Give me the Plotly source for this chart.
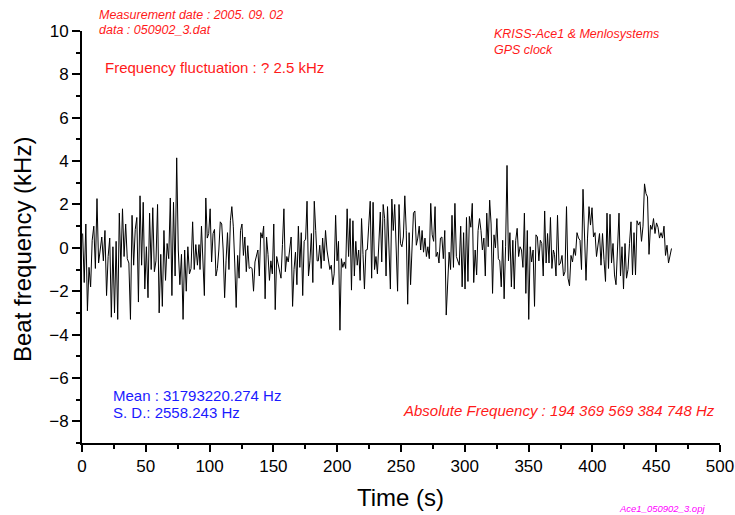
import numpy as np
import plotly.graph_objects as go

# Beat frequency (kHz), in time order, split in five spans
beat_0_92 = [0.66, -1.6, 1.1, -2.9, -0.9, -1.8, 0.35, 1.0, -0.95, 2.27, -0.7, -0.2, 0.5, -0.6, 0.8, -2.2,
             -0.4, 0.45, -3.2, 0.05, -3.0, 0.3, -3.3, 1.6, -0.9, 1.8, -0.4, 1.1, -0.5, -0.7, -3.3, 1.5,
             -0.8, 0.85, 1.4, -2.5, 2.4, -0.8, 2.1, -1.9, 0.05, -2.3, 1.6, -1.0, 1.85, -1.1, -0.6, 2.0,
             -3.0, -0.3, -2.7, 0.8, -1.5, 0.2, -0.5, 2.3, -2.2, 2.1, -1.3, 4.15, -0.1, -1.7, -0.3, -3.3,
             -0.1, -2.0, 0.05, -1.2, -0.95, 1.2, -1.0, 0.15, -0.8, 0.15]
beat_92_184 = [-1.0, 1.0, -0.4, -2.2, 2.3, 0.45, 0.66, 1.8, -0.65, 0.66, 0.85, -1.3, -0.95, -0.1, 1.2, 1.1,
               -0.1, -2.3, -0.6, 0.7, -1.0, 1.25, 1.9, 1.0, -0.7, -2.75, -0.35, -1.4, 0.8, 1.1, -0.35, 0.5,
               -1.1, 0.1, -0.95, -0.9, -0.95, -2.0, -0.65, -0.4, -0.1, -1.3, 0.7, 0.45, 1.0, -2.35, 0.5,
               -0.3, -1.5, -0.6, -1.2, 1.1, -2.85, -0.4, -0.8, -1.2, -1.4, 0.15, 1.8, -1.1, -0.4, -0.65,
               -0.1, 0.5, -2.7, -1.0, -0.2, -1.7, 1.0, -0.9, 0.7, -2.2, 0.3, 0.4, 2.15, -1.3, -0.6, 0.66,
               -1.6, 2.15, 0.8, -0.6]
beat_184_276 = [-0.6, 0.12, -0.95, 0.45, -0.6, 0.8, -0.1, -0.65, -1.0, -0.8, -1.7, -1.2, 1.5, -0.6, 0.3,
                -3.8, -0.5, -0.9, -0.65, -0.95, 1.8, -0.4, 1.35, -1.95, 1.25, -1.3, 0.3, -0.8, -0.1, -1.5,
                1.35, -0.3, -1.9, -0.1, -0.08, 1.05, 2.15, -1.4, 2.1, -1.0, -0.4, -1.2, 0.05, 1.65, -0.65,
                2.0, 1.35, -1.3, 1.9, 0.05, -1.9, 2.25, 0.8, 2.0, -0.7, -2.0, 2.0, 0.2, 0.05, 0.5, 2.4, 0.8,
                -2.6, 0.7, -1.7, 0.2, 1.6, 1.7, 0.12, 0.45, 1.0, -0.1, 0.8, -0.2, 0.45, -0.4, 0.05, -0.5,
                2.05, 0.6, 0.3, 1.9]
beat_276_369 = [-0.4, -0.2, -0.7, 0.45, 0.5, -0.5, 0.8, -3.1, -1.3, -0.2, -1.0, 1.5, -0.9, 2.05, -0.4, -0.6,
                -0.8, 1.0, -1.8, 0.7, -1.9, 1.4, -1.55, 1.45, 0.95, 2.05, -1.6, -0.1, -1.25, 0.8, 1.35, 0.8,
                -0.1, 0.45, -1.3, 1.6, 0.05, 2.2, 1.1, -2.1, 0.6, 0.0, 1.35, -0.5, -0.6, -1.8, 0.35, -2.35,
                0.05, 3.8, -0.6, 0.7, -1.8, 0.35, -1.9, 0.35, 0.9, -0.4, 0.05, -0.1, -0.9, 1.6, -2.1, 0.8,
                -3.3, 0.05, -0.65, -0.1, -2.7, 0.6, 0.5, -0.6, 0.35, 0.2, -1.3, 1.7, -0.7, 0.66, -0.7, 1.4,
                -0.95, -0.1]
beat_369_462 = [-0.3, -1.3, 1.5, -0.8, -0.7, -0.35, -1.3, -1.1, 1.9, -1.4, -1.75, -0.35, -0.65, -0.03, -0.35,
                0.7, 0.45, 0.35, -1.0, 2.7, 0.9, -1.5, 0.45, 1.9, 1.05, 1.85, 0.5, 0.7, -0.4, 0.12, 0.66,
                -0.8, 0.66, -0.55, -1.55, 1.6, -0.95, 1.55, -0.7, 0.2, -1.25, -1.7, 0.12, 1.6, -1.3, 0.05,
                -1.9, 0.2, -1.4, -1.0, 0.2, 1.2, -1.25, 0.7, -1.25, 1.25, 1.05, 1.2, 0.3, 1.0, 2.95, 2.5,
                2.35, -0.3, 1.05, 0.85, 1.35, 0.66, 1.15, 0.95, 0.45, 0.7, 0.45, 1.0, -0.35, 0.12, -0.7,
                -0.3, -0.03]

# first and last time (s) of each span above
span_times = [(0.5, 91.7), (92.5, 184.3), (185.2, 276.7), (277.5, 369.4), (370.3, 462.0)]

x_ticks = [0, 50, 100, 150, 200, 250, 300, 350, 400, 450, 500]
y_ticks = [-8, -6, -4, -2, 0, 2, 4, 6, 8, 10]

segments = [beat_0_92, beat_92_184, beat_184_276, beat_276_369, beat_369_462]
beat = np.concatenate([np.array(s) for s in segments])
time_s = np.concatenate([np.linspace(a, b, len(s)) for s, (a, b) in zip(segments, span_times)])

FONT = "Liberation Sans, Arial, sans-serif"
RED = "#ff1a1a"
BLUE = "#1a1aff"

fig = go.Figure()
fig.add_trace(go.Scatter(x=time_s, y=beat, mode="lines",
                         line=dict(color="black", width=1), showlegend=False))

W, H = 735, 515
L, R, T, B = 82, 15, 31, 72
pw, ph = W - L - R, H - T - B


def px(xp, yp):
    return (xp - L) / pw, (H - B - yp) / ph


def note(text, xp, yp, color, size, italic=False, xanchor="left", yanchor="middle", angle=0):
    x, y = px(xp, yp)
    fig.add_annotation(text=text, x=x, y=y, xref="paper", yref="paper", showarrow=False,
                       xanchor=xanchor, yanchor=yanchor, textangle=angle,
                       font=dict(family=FONT, size=size, color=color,
                                 style="italic" if italic else "normal"))


note("Measurement date : 2005. 09. 02", 97, 15, RED, 12.5, italic=True)
note("data : 050902_3.dat", 97, 30, RED, 12.5, italic=True)
note("Frequency fluctuation : ? 2.5 kHz", 103, 68, RED, 15)
note("KRISS-Ace1 & Menlosystems", 492, 34, RED, 12.5, italic=True)
note("GPS clock", 492, 50, RED, 12.5, italic=True)
note("Mean : 31793220.274 Hz", 111, 395, BLUE, 15)
note("S. D.: 2558.243 Hz", 111, 412, BLUE, 15)
note("Absolute Frequency : 194 369 569 384 748 Hz", 401, 410, RED, 15, italic=True)
note("Ace1_050902_3.opj", 617, 516, "#ff00ff", 9.5, italic=True, yanchor="bottom")
note("Beat frequency (kHz)", 22, 250, "black", 24, xanchor="center", angle=-90)
note("Time (s)", 400, 497, "black", 24, xanchor="center")

axis_common = dict(showgrid=False, zeroline=False, showline=True, linecolor="black", linewidth=2,
                   ticks="outside", tickcolor="black", tickwidth=2, automargin=False,
                   tickfont=dict(family=FONT, size=17, color="black"))

fig.update_xaxes(range=[0, 500], tickvals=x_ticks, ticklen=7,
                 minor=dict(dtick=25, ticks="outside", ticklen=4, tickwidth=2, tickcolor="black"),
                 **axis_common)
fig.update_yaxes(range=[-9, 10], tickvals=y_ticks, ticklen=8,
                 minor=dict(dtick=1, ticks="outside", ticklen=4, tickwidth=2, tickcolor="black"),
                 **axis_common)

fig.update_layout(width=W, height=H, margin=dict(l=L, r=R, t=T, b=B),
                  plot_bgcolor="white", paper_bgcolor="white",
                  font=dict(family=FONT))

fig.write_html("out.html")
